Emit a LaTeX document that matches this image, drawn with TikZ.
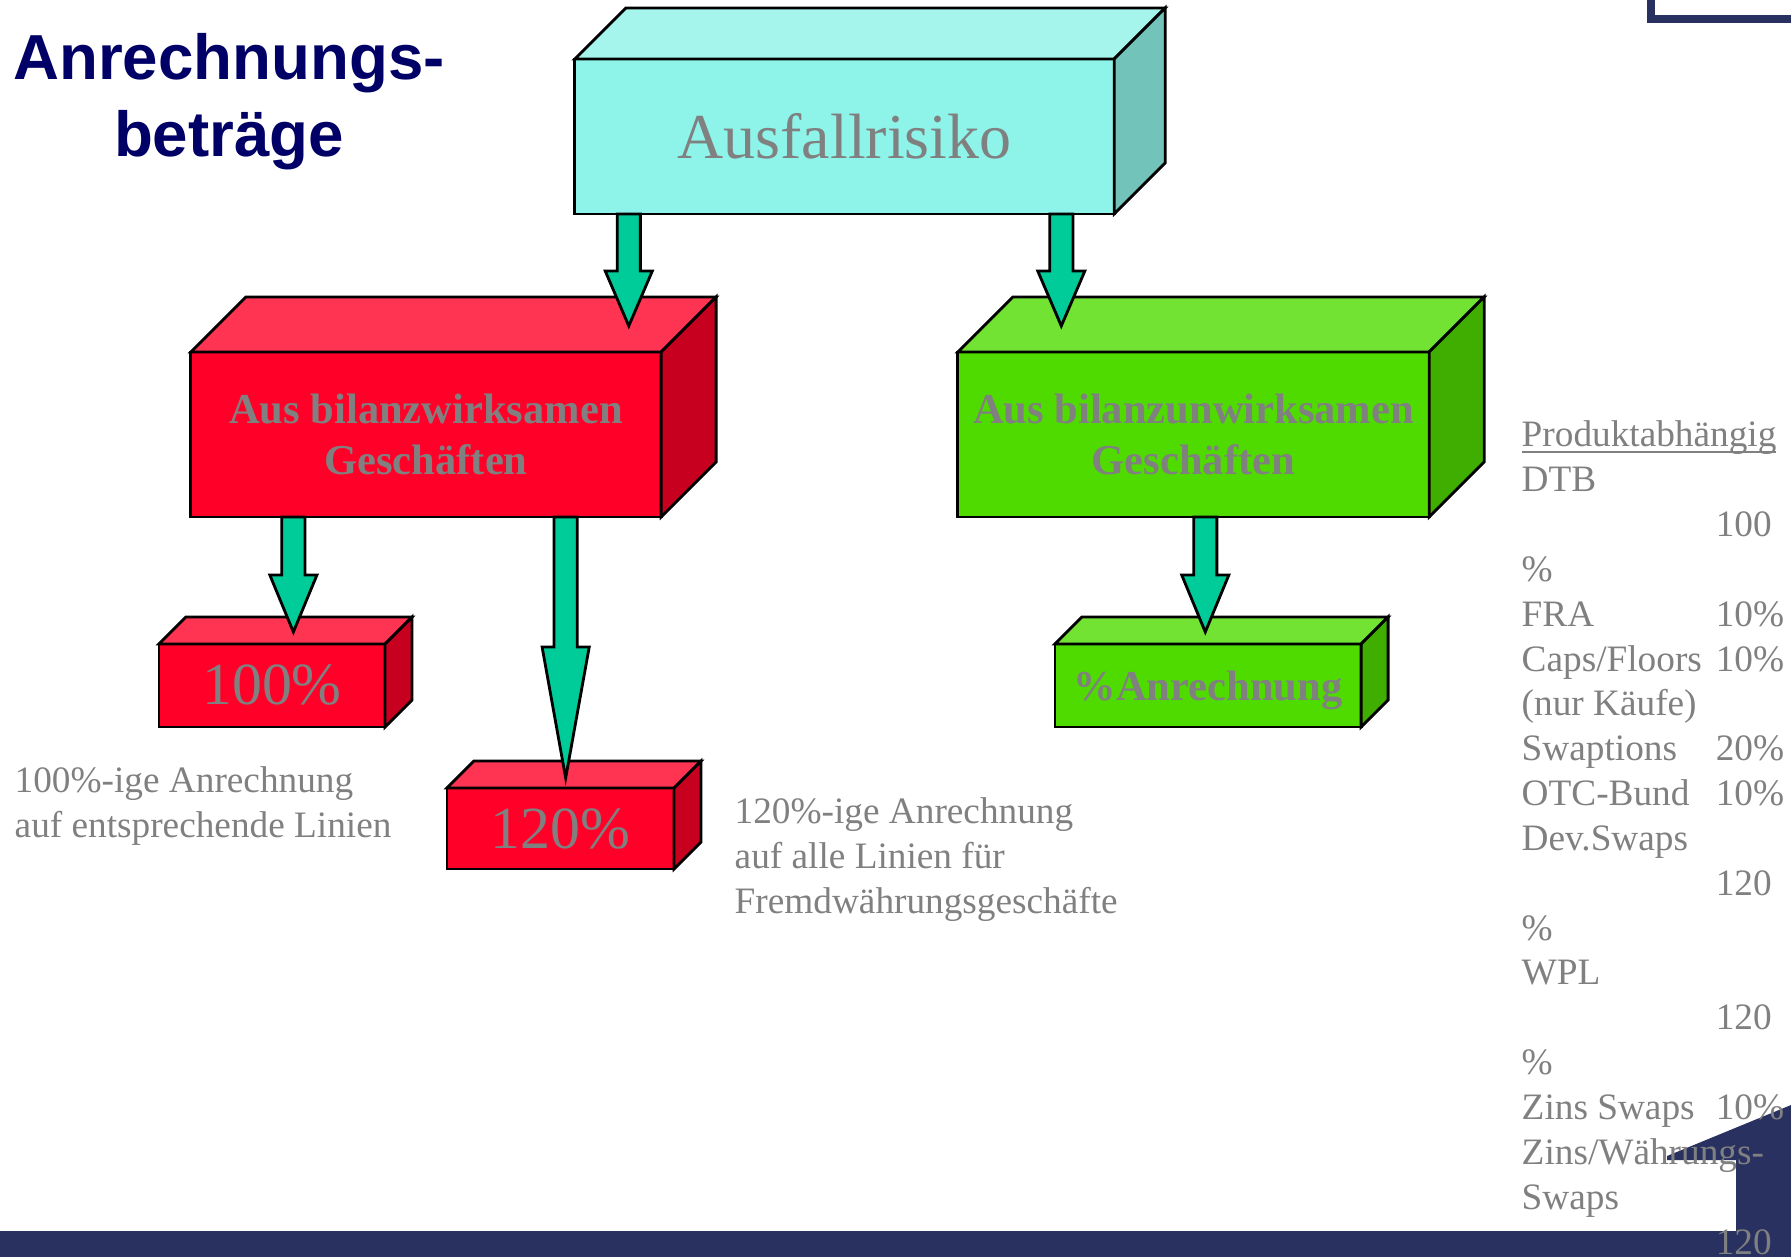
\documentclass[tikz,border=0pt]{standalone}
\usepackage{fontspec}
\setmainfont{Liberation Serif}
\newfontfamily\titlefont{Liberation Sans}
\usepackage{tikz}
\usetikzlibrary{calc}
\definecolor{titleblue}{RGB}{0,0,102}
\definecolor{barblue}{RGB}{41,49,96}
\definecolor{txtgray}{RGB}{128,128,128}
\definecolor{aquafront}{RGB}{142,243,233}
\definecolor{aquatop}{RGB}{166,245,237}
\definecolor{aquaside}{RGB}{114,195,186}
\definecolor{redfront}{RGB}{255,0,41}
\definecolor{redtop}{RGB}{255,51,82}
\definecolor{redside}{RGB}{200,0,32}
\definecolor{greenfront}{RGB}{79,219,0}
\definecolor{greentop}{RGB}{114,226,51}
\definecolor{greenside}{RGB}{64,174,0}
\definecolor{arrowgreen}{RGB}{0,204,153}
\newcommand{\boxsides}[4]{%
  \draw[boxline, fill=#3] (#1.north west) -- ++(#2,-#2) -- ($(#1.north east)+(#2,-#2)$) -- (#1.north east) -- cycle;
  \draw[boxline, fill=#4] (#1.north east) -- ++(#2,-#2) -- ($(#1.south east)+(#2,-#2)$) -- (#1.south east) -- cycle;}
\newcommand{\fatarrow}[6]{%
  \coordinate (#1s) at ($(#2.south west)!#3!(#2.south east)$);
  \coordinate (#1t) at ($(#1s |- #4.north)+(0,-#5)$);
  \draw[shaft] let \p1=(#1s), \p2=(#1t), \p3=($(#1t)+(0,-#6)$) in
    (\x1-3.3pt,\y1) -- (\x1-3.3pt,\y3) -- (\x1-6.7pt,\y3) -- (\x2,\y2)
    -- (\x1+6.7pt,\y3) -- (\x1+3.3pt,\y3) -- (\x1+3.3pt,\y1) -- cycle;}
\newcommand{\prodrow}[2]{\makebox[1.94cm][l]{#1}#2}

\begin{document}
\begin{tikzpicture}[x=0.01cm, y=-0.01cm,
    boxline/.style={draw=black, line width=0.8pt, line join=miter},
    face/.style={boxline, inner sep=0pt, outer sep=0pt, align=center, text=txtgray},
    shaft/.style={boxline, fill=arrowgreen},
    notetxt/.style={inner sep=0pt, align=left, text=txtgray, font=\fontsize{10.6}{12.75}\selectfont}]
    \useasboundingbox (0,0) rectangle (1791,1257);
    \fill[barblue] (0,1231) rectangle (1791,1257);
    \fill[barblue] (1667,1160) -- (1667,1156) -- (1791,1105) -- (1791,1232) -- (1736,1232) -- (1736,1160) -- cycle;
    \draw[barblue, line width=2.3pt] (1651,0) -- (1651,19) -- (1791,19);
    %%%
    \node[anchor=base, align=center, text=titleblue, font=\titlefont\bfseries\fontsize{18.1}{21.8}\selectfont] (title) at (229,156) {Anrechnungs-\\beträge};
    %%%
    \node[face, fill=aquafront, minimum width=5.39cm, minimum height=1.55cm, font=\fontsize{18.2}{21.8}\selectfont] (risk) at (844.5,136.5) {Ausfallrisiko};
    \boxsides{risk}{51}{aquatop}{aquaside}
    \node[face, fill=redfront, minimum width=4.70cm, minimum height=1.65cm, font=\bfseries\fontsize{12.1}{14.5}\selectfont] (biz) at (426,434.5) {Aus bilanzwirksamen\\Geschäften};
    \boxsides{biz}{55}{redtop}{redside}
    \node[face, fill=greenfront, minimum width=4.71cm, minimum height=1.65cm, font=\bfseries\fontsize{12.1}{14.5}\selectfont] (off) at (1193.5,434.5) {Aus bilanzunwirksamen\\Geschäften};
    \boxsides{off}{55}{greentop}{greenside}
    \node[face, fill=redfront, minimum width=2.26cm, minimum height=0.83cm, font=\fontsize{17}{20.4}\selectfont] (p100) at (272,685.5) {100\%};
    \boxsides{p100}{27}{redtop}{redside}
    \node[face, fill=redfront, minimum width=2.27cm, minimum height=0.81cm, font=\fontsize{17}{20.4}\selectfont] (p120) at (560.5,828.5) {120\%};
    \boxsides{p120}{27}{redtop}{redside}
    \node[face, fill=greenfront, minimum width=3.06cm, minimum height=0.83cm, text depth=0pt, font=\bfseries\fontsize{12.1}{14.5}\selectfont] (pct) at (1208,685.5) {\%Anrechnung};
    \boxsides{pct}{27}{greentop}{greenside}
    %%%
    \fatarrow{a1}{risk}{0.1}{biz}{26}{55}
    \fatarrow{a2}{risk}{0.902}{off}{26}{55}
    \fatarrow{a3}{biz}{0.218}{p100}{12}{57}
    \fatarrow{a4}{biz}{0.797}{p120}{10}{131}
    \fatarrow{a5}{off}{0.525}{pct}{12}{57}
    %%%
    \node[notetxt, anchor=base west] (note100) at (14,837) {100\%-ige Anrechnung\\auf entsprechende Linien};
    \node[notetxt, anchor=base west] (note120) at (734,913) {120\%-ige Anrechnung\\auf alle Linien für\\Fremdwährungsgeschäfte};
    \node[notetxt, anchor=base west] (prodlist) at (1521,1254) {\underline{\smash{Produktabhängig}}\\DTB\\\prodrow{}{100}\\\%\\\prodrow{FRA}{10\%}\\\prodrow{Caps/Floors}{10\%}\\(nur Käufe)\\\prodrow{Swaptions}{20\%}\\\prodrow{OTC-Bund}{10\%}\\Dev.Swaps\\\prodrow{}{120}\\\%\\WPL\\\prodrow{}{120}\\\%\\\prodrow{Zins Swaps}{10\%}\\Zins/Währungs-\\Swaps\\\prodrow{}{120}};
\end{tikzpicture}
\end{document}
